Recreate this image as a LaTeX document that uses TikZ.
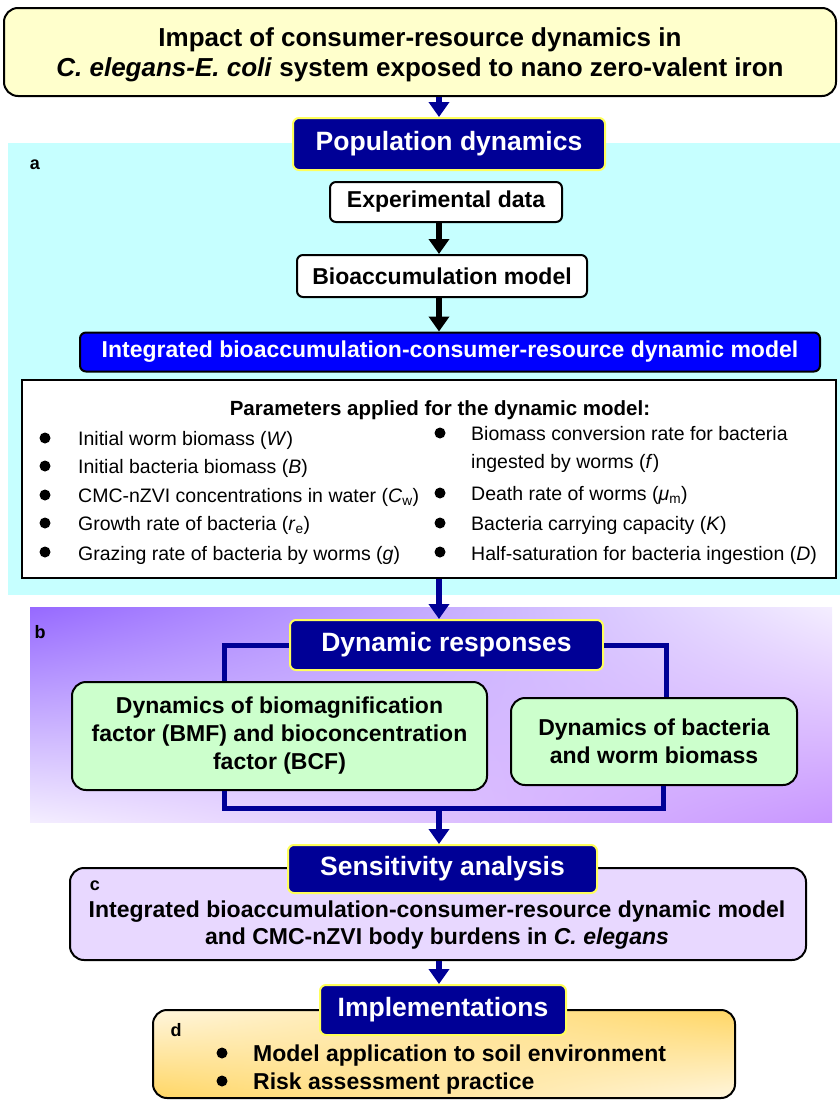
\documentclass[tikz,border=0pt]{standalone}
\usepackage{fontspec}
\setmainfont{Liberation Sans}
\usetikzlibrary{arrows.meta,positioning,shadings}
\definecolor{titlefill}{RGB}{255,255,204}
\definecolor{navy}{RGB}{0,0,150}
\definecolor{hiyellow}{RGB}{255,255,90}
\definecolor{cyanbg}{RGB}{198,255,255}
\definecolor{modelblue}{RGB}{0,0,255}
\definecolor{greenfill}{RGB}{204,255,204}
\definecolor{lavender}{RGB}{232,216,255}
\definecolor{purpledark}{RGB}{150,105,255}
\definecolor{purplemid}{RGB}{200,150,255}
\definecolor{purplepale}{RGB}{244,238,255}
\definecolor{amber}{RGB}{255,214,100}
\definecolor{amberpale}{RGB}{255,246,222}

\begin{document}
\begin{tikzpicture}[x=1pt, y=-1pt,
  box/.style={draw, line width=2pt, rounded corners=10pt, align=center, inner sep=0pt, font=\bfseries\fontsize{23}{27}\selectfont},
  headbox/.style={box, fill=navy, draw=hiyellow, text=white, rounded corners=6pt, font=\bfseries\fontsize{26.5}{30}\selectfont},
  plainbox/.style={box, fill=white, rounded corners=6pt},
  greenbox/.style={box, fill=greenfill, rounded corners=14pt, font=\bfseries\fontsize{23}{28}\selectfont},
  tag/.style={font=\bfseries\fontsize{18}{20}\selectfont, inner sep=0pt},
  item/.style={anchor=base west, inner sep=0pt, font=\fontsize{19.5}{22}\selectfont},
  boldItem/.style={item, font=\bfseries\fontsize{23}{26}\selectfont},
  dot/.style={circle, fill=black, minimum size=11pt, inner sep=0pt},
  arrb/.style={-{Triangle[length=15pt,width=20pt]}, line width=5.5pt, navy},
  arrk/.style={-{Triangle[length=15pt,width=20pt]}, line width=5.5pt, black},
  link/.style={line width=5pt, navy}
]
\useasboundingbox (0,0) rectangle (840,1100);
\fill[cyanbg] (8,143) rectangle (840,595);
\shade[upper left=purpledark, upper right=purplepale, lower left=purplepale, lower right=purplemid] (30,607) rectangle (832,822);
\coordinate (spine) at (439,0);

\node[box, fill=titlefill, rounded corners=14pt, minimum width=832pt, minimum height=88pt, text depth=0pt, font=\bfseries\fontsize{26}{30}\selectfont] (title) at (420,52)
  {Impact of consumer-resource dynamics in\\\textit{C. elegans-E. coli} system exposed to nano zero-valent iron};
\node[headbox, minimum width=312pt, minimum height=52pt] (popdyn) at (449,144) {Population dynamics};
\node[tag] (taga) at (35,165) {a};
\node[plainbox, minimum width=232pt, minimum height=40pt] (expdata) at (446,202) {Experimental data};
\node[plainbox, minimum width=290pt, minimum height=42pt] (bioacc) at (442,276) {Bioaccumulation model};
\node[box, fill=modelblue, text=white, rounded corners=6pt, minimum width=740pt, minimum height=39pt] (intmodel) at (450,352)
  {Integrated bioaccumulation-consumer-resource dynamic model};
\node[draw, line width=2pt, fill=white, minimum width=814pt, minimum height=198pt, inner sep=0pt] (params) at (429,479) {};
\node[tag, font=\bfseries\fontsize{20.5}{24}\selectfont] (paramhead) at (440,410) {Parameters applied for the dynamic model:};

\node[dot] (dl1) at (45,438) {};
\node[dot] (dl2) at (45,466) {};
\node[dot] (dl3) at (45,495) {};
\node[dot] (dl4) at (45,523) {};
\node[dot] (dl5) at (45,552) {};
\node[item] (pW) at (78,445) {Initial worm biomass (\textit{W})};
\node[item] (pB) at (78,473) {Initial bacteria biomass (\textit{B})};
\node[item] (pC) at (78,502) {CMC-nZVI concentrations in water (\textit{C}\textsubscript{w})};
\node[item] (pr) at (78,530) {Growth rate of bacteria (\textit{r}\textsubscript{e})};
\node[item] (pg) at (78,560) {Grazing rate of bacteria by worms (\textit{g})};
\node[dot] (dr1) at (440,433) {};
\node[dot] (dr2) at (440,493) {};
\node[dot] (dr3) at (440,523) {};
\node[dot] (dr4) at (440,552) {};
\node[item] (pf) at (471,440) {Biomass conversion rate for bacteria};
\node[item] (pf2) at (471,468) {ingested by worms (\textit{f})};
\node[item] (pmu) at (471,500) {Death rate of worms (\textit{μ}\textsubscript{m})};
\node[item] (pK) at (471,530) {Bacteria carrying capacity (\textit{K})};
\node[item] (pD) at (471,560) {Half-saturation for bacteria ingestion (\textit{D})};

\node[headbox, minimum width=313pt, minimum height=50pt] (dynresp) at (446.5,645) {Dynamic responses};
\node[tag] (tagb) at (40,632) {b};
\node[greenbox, minimum width=415pt, minimum height=108pt] (bmf) at (279.5,736)
  {Dynamics of biomagnification\\factor (BMF) and bioconcentration\\factor (BCF)};
\node[greenbox, minimum width=286pt, minimum height=87pt] (biomass) at (654,741.5)
  {Dynamics of bacteria\\and worm biomass};
\coordinate (merge) at (439,808);

\node[box, fill=lavender, rounded corners=14pt, minimum width=736pt, minimum height=92pt] (sensbody) at (438,914) {};
\node[box, draw=none, fill=none] (senstext) at (437,925)
  {Integrated bioaccumulation-consumer-resource dynamic model\\and CMC-nZVI body burdens in \textit{C. elegans}};
\node[headbox, minimum width=309pt, minimum height=48pt] (sens) at (442.5,869) {Sensitivity analysis};
\node[tag] (tagc) at (95,886) {c};

\node[box, upper left=amberpale, upper right=amber, lower left=amber, lower right=amberpale, rounded corners=14pt, minimum width=582pt, minimum height=88pt] (implbody) at (444,1054) {};
\node[headbox, minimum width=246pt, minimum height=50pt] (impl) at (443,1010) {Implementations};
\node[tag] (tagd) at (176,1030) {d};
\node[dot] (dd1) at (222,1053) {};
\node[dot] (dd2) at (222,1081) {};
\node[boldItem] (soil) at (253,1061) {Model application to soil environment};
\node[boldItem] (risk) at (253,1089) {Risk assessment practice};

\draw[arrb] (title.south -| spine) -- (popdyn.north -| spine);
\draw[arrk] (expdata.south -| spine) -- (bioacc.north -| spine);
\draw[arrk] (bioacc.south -| spine) -- (intmodel.north -| spine);
\draw[arrb] (params.south -| spine) -- (dynresp.north -| spine);
\draw[link] (dynresp.west) -| ([xshift=-55pt]bmf.north);
\draw[link] (dynresp.east) -| ([xshift=12pt]biomass.north);
\draw[link] ([xshift=-55pt]bmf.south) |- (merge) -| ([xshift=9pt]biomass.south);
\draw[arrb] (merge) -- (sens.north -| spine);
\draw[arrb] (sensbody.south -| spine) -- (impl.north -| spine);
\end{tikzpicture}
\end{document}
